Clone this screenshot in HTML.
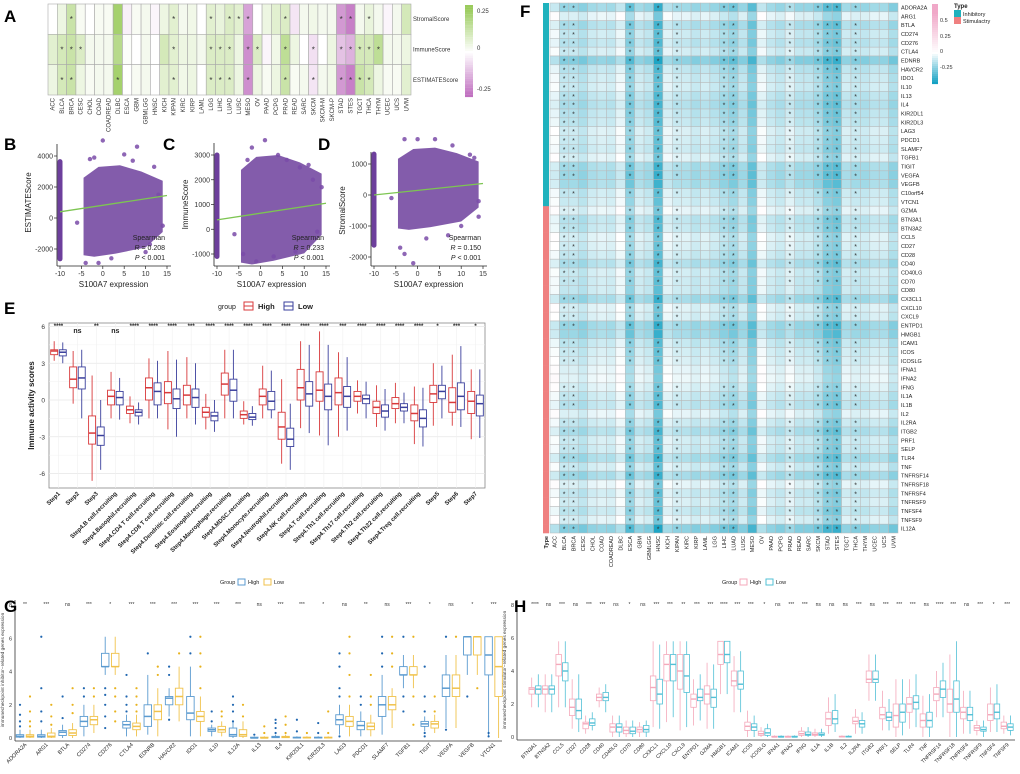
<!DOCTYPE html>
<html><head><meta charset="utf-8"><style>
body{margin:0;background:#fff;}
svg{display:block;font-family:"Liberation Sans",Arial,sans-serif;}
</style></head><body>
<svg id="s" width="1020" height="774" viewBox="0 0 1020 774" xmlns="http://www.w3.org/2000/svg"></svg>
<script>
const NS="http://www.w3.org/2000/svg";
const S=document.getElementById('s');
function el(t,a,p){const e=document.createElementNS(NS,t);for(const k in a)e.setAttribute(k,a[k]);(p||S).appendChild(e);return e;}
function tx(x,y,s,a,p){const e=el('text',Object.assign({x:x,y:y},a||{}),p);e.textContent=s;return e;}
function grp(name){const g=el('g',{});return g;}

// ===== Panel A data =====
const aCats=["ACC","BLCA","BRCA","CESC","CHOL","COAD","COADREAD","DLBC","ESCA","GBM","GBMLGG","HNSC","KICH","KIPAN","KIRC","KIRP","LAML","LGG","LIHC","LUAD","LUSC","MESO","OV","PAAD","PCPG","PRAD","READ","SARC","SKCM","SKCM-M","SKCM-P","STAD","STES","TGCT","THCA","THYM","UCEC","UCS","UVM"];
const aRows=["StromalScore","ImmuneScore","ESTIMATEScore"];
const aStromal=[0,0.05,0.15,0.02,0,0.02,0.02,0.25,-0.03,0.02,0.03,-0.02,0.05,0.08,0.03,0.04,0,0.08,0.06,0.1,0.08,-0.18,0,0.05,0.08,0.1,-0.05,0.03,0.04,0.03,0.03,-0.2,-0.25,0.03,0.06,0.03,-0.02,0.03,0.12];
const aImmune=[0.08,0.12,0.15,0.1,0.03,0.03,0.03,0.2,0.01,0,0.03,0,0.12,0.08,0.05,0.05,0.03,0.1,0.1,0.1,0.05,-0.22,0.1,-0.02,0.04,0.18,0.05,0,-0.06,0,0.05,-0.12,-0.15,0.12,0.12,0.18,0.03,0.03,0.05];
const aEstimate=[0.05,0.12,0.15,0.05,0.02,0.03,0.03,0.25,0,0.02,0.03,0,0.08,0.08,0.04,0.05,0,0.1,0.1,0.1,0.05,-0.22,0.05,0.02,0.05,0.15,0.02,0.03,-0.05,0.03,0.04,-0.2,-0.25,0.15,0.12,0.05,0.02,0.02,0.08];
const aStarStromal=[2,13,17,19,20,21,25,31,32,34];
const aStarImmune=[1,2,3,13,17,18,19,21,22,25,28,31,32,33,34,35];
const aStarEstimate=[1,2,7,13,17,18,19,21,25,28,31,32,33,34];

function mix(c1,c2,t){const a=[1,3,5].map(i=>parseInt(c1.substr(i,2),16)),b=[1,3,5].map(i=>parseInt(c2.substr(i,2),16));return 'rgb('+a.map((v,i)=>Math.round(v+(b[i]-v)*t)).join(',')+')';}
function aColor(v){return v>=0?mix('#ffffff','#9acb5c',Math.min(1,v/0.28)):mix('#ffffff','#c070c0',Math.min(1,-v/0.28));}

(function(){
 const g=grp('heatmap-a');
 const x0=48,x1=411,y0=4,y1=95,cw=(x1-x0)/aCats.length,rh=(y1-y0)/3;
 const vals=[aStromal,aImmune,aEstimate],stars=[aStarStromal,aStarImmune,aStarEstimate];
 vals.forEach((row,r)=>row.forEach((v,c)=>{
  const e=el('rect',{x:x0+c*cw,y:y0+r*rh,width:cw,height:rh,fill:aColor(v),stroke:'#aaa','stroke-width':0.6},g);
  
  if(stars[r].indexOf(c)>=0) tx(x0+c*cw+cw/2,y0+r*rh+rh/2+3,'*',{'font-size':8,'text-anchor':'middle',fill:'#333'},g);
 }));
 aRows.forEach((n,r)=>{const t=tx(413,y0+r*rh+rh/2+2,n,{'font-size':6,fill:'#333'},g);});
 aCats.forEach((n,c)=>{const t=tx(0,0,n,{'font-size':6,fill:'#333','text-anchor':'end',transform:'translate('+(x0+c*cw+cw/2+2)+',98) rotate(-90)'},g);});
 const cb=grp('colorbar-a');
 for(let i=0;i<40;i++){const v=0.3-i*0.6/40;el('rect',{x:465,y:5+i*2.3,width:8,height:2.4,fill:aColor(v)},cb);}
 tx(477,13,'0.25',{'font-size':6,fill:'#333'},cb);tx(477,50,'0',{'font-size':6,fill:'#333'},cb);tx(477,91,'-0.25',{'font-size':6,fill:'#333'},cb);
})();

// ===== Panels B C D =====
const stripX=-10;
const cloudPts=[[-4.5,-2400],[-4.5,2600],[-1,3300],[4,3400],[9,3000],[14,2400],[14,-900],[10,-1900],[3,-2300],[-2,-2500]];
const bExtra=[[0,5000],[8,4600],[-2,3900],[5,4100],[12,3300],[-4,-2900],[-1,-2900],[10,-2200],[14,-500],[-6,-300],[13,1500],[2,-2600],[7,3700],[11,-1700],[-3,3800]];
const cExtra=[[1,3600],[-2,3300],[4,3000],[9,2500],[12,2000],[-4,-1000],[-1,-1300],[8,-900],[14,1700],[-6,-200],[11,2600],[3,-1100],[6,2800],[13,-100],[-3,2800]];
const dExtra=[[-3,1800],[0,1800],[4,1800],[8,1600],[12,1300],[-4,-1700],[-1,-2200],[7,-1300],[14,-200],[-6,-100],[13,1200],[2,-1400],[10,-1000],[14,-700],[-3,-1900]];
const bStrip=[-2800,3800],cStrip=[-1200,3100],dStrip=[-1700,1400];
const fitB=[[-10,400],[15,1450]],fitC=[[-10,380],[15,1050]],fitD=[[-10,0],[15,370]];
const stats=[["0.208"],["0.233"],["0.150"]];

function scatter(name,ax,pxA,pxB,yv1,py1,yv2,py2,ticks,ylab,strip,extra,fit,R,cloudScale){
 const g=grp(name);
 const X=v=>pxA+(v+10)*(pxB-pxA)/25, Y=v=>py1+(v-yv1)*(py2-py1)/(yv2-yv1);
 el('line',{x1:ax,y1:Y(ticks[ticks.length-1])-12,x2:ax,y2:266,stroke:'#222','stroke-width':0.8},g);
 el('line',{x1:ax,y1:266,x2:pxB+4,y2:266,stroke:'#222','stroke-width':0.8},g);
 [-10,-5,0,5,10,15].forEach(v=>{el('line',{x1:X(v),y1:266,x2:X(v),y2:269,stroke:'#222','stroke-width':0.7},g);tx(X(v),276,String(v),{'font-size':7,'text-anchor':'middle',fill:'#333'},g);});
 ticks.forEach(v=>{el('line',{x1:ax-3,y1:Y(v),x2:ax,y2:Y(v),stroke:'#222','stroke-width':0.7},g);tx(ax-4,Y(v)+2.5,String(v),{'font-size':7,'text-anchor':'end',fill:'#333'},g);});
 tx(0,0,ylab,{'font-size':8,'text-anchor':'middle',fill:'#222',transform:'translate('+(ax-26)+','+((Y(ticks[0])+Y(ticks[ticks.length-1]))/2)+') rotate(-90)'},g);
 tx((pxA+pxB)/2,287,'S100A7 expression',{'font-size':8,'text-anchor':'middle',fill:'#222'},g);
 const pts=cloudPts.map(p=>X(p[0])+','+Y(p[1]*cloudScale[0]+cloudScale[1])).join(' ');
 const c=el('polygon',{points:pts,fill:'#6d3f9c','fill-opacity':0.85},g);
 el('rect',{x:X(stripX)-2.5,y:Y(strip[1]),width:5,height:Y(strip[0])-Y(strip[1]),fill:'#6d3f9c',rx:2.5},g);
 extra.forEach(p=>el('circle',{cx:X(p[0]),cy:Y(p[1]),r:2.2,fill:'#7a4ba8','fill-opacity':0.85},g));
 const f=el('line',{x1:X(fit[0][0]),y1:Y(fit[0][1]),x2:X(fit[1][0]),y2:Y(fit[1][1]),stroke:'#7dc552','stroke-width':1.3},g);
 tx(pxB-2,240,'Spearman',{'font-size':7,'text-anchor':'end',fill:'#222'},g);
 const r=tx(pxB-2,250,'',{'font-size':7,'text-anchor':'end',fill:'#222'},g);r.innerHTML='<tspan font-style="italic">R</tspan> = '+R;
 const pp=tx(pxB-2,260,'',{'font-size':7,'text-anchor':'end',fill:'#222'},g);pp.innerHTML='<tspan font-style="italic">P</tspan> &lt; 0.001';
}
scatter('scatter-b',57,60,167,4000,156,-2000,249,[-2000,0,2000,4000],'ESTIMATEScore',bStrip,bExtra,fitB,stats[0][0],[1,0]);
scatter('scatter-c',214,217,326,3000,155,-1000,254,[-1000,0,1000,2000,3000],'ImmuneScore',cStrip,cExtra,fitC,stats[1][0],[0.75,450]);
scatter('scatter-d',371,374,483,1000,164,-2000,257,[-2000,-1000,0,1000],'StromalScore',dStrip,dExtra,fitD,stats[2][0],[0.45,0]);

// ===== Panel E =====
const eCats=["Step1","Step2","Step3","Step4.B cell.recruiting","Step4.Basophil.recruiting","Step4.CD4 T cell.recruiting","Step4.CD8 T cell.recruiting","Step4.Dendritic cell.recruiting","Step4.Eosinophil.recruiting","Step4.Macrophage.recruiting","Step4.MDSC.recruiting","Step4.Monocyte.recruiting","Step4.Neutrophil.recruiting","Step4.NK cell.recruiting","Step4.T cell.recruiting","Step4.Th1 cell.recruiting","Step4.Th17 cell.recruiting","Step4.Th2 cell.recruiting","Step4.Th22 cell.recruiting","Step4.Treg cell.recruiting","Step5","Step6","Step7"];
const eHigh=[[3.2,3.7,4.0,4.1,4.8],[-0.3,1.0,1.7,2.7,4.0],[-6.6,-3.6,-2.7,-1.3,2.0],[-1.5,-0.4,0.3,0.8,2.3],[-1.9,-1.1,-0.8,-0.5,0.3],[-1.5,0,1.0,1.8,3.4],[-2.4,-0.3,0.6,1.5,4.0],[-1.5,-0.4,0.4,1.2,3.5],[-2.4,-1.4,-1.0,-0.6,0.5],[-1.5,0.4,1.3,2.2,4.1],[-2.0,-1.5,-1.2,-0.9,-0.1],[-1.5,-0.4,0.3,0.9,2.8],[-5.2,-3.2,-2.2,-1.0,1.7],[-2.3,0,1.0,2.5,4.8],[-2.9,-0.1,0.8,2.3,5.6],[-3.0,-0.4,0.6,1.8,3.9],[-1.1,-0.1,0.3,0.7,1.6],[-2.2,-1.1,-0.6,-0.1,1.2],[-1.9,-0.7,-0.3,0.2,1.4],[-3.6,-1.7,-1.1,-0.4,1.1],[-2.1,-0.2,0.5,1.2,3.0],[-2.1,-1.0,-0.2,1.0,3.7],[-3.2,-1.1,-0.1,0.7,2.5]];
const eLow=[[3.0,3.6,3.9,4.1,4.7],[-1.5,0.9,1.8,2.7,4.1],[-5.7,-3.7,-2.9,-2.2,0],[-1.6,-0.4,0.2,0.7,1.8],[-2.0,-1.3,-1.0,-0.8,-0.2],[-1.5,-0.4,0.7,1.4,3.2],[-3.0,-0.7,0.1,0.9,3.3],[-2.0,-0.6,0.2,0.9,3.0],[-2.6,-1.7,-1.3,-1.0,0],[-1.5,-0.1,0.8,1.7,4.1],[-2.1,-1.6,-1.4,-1.1,-0.5],[-1.5,-0.8,-0.1,0.7,2.4],[-5.7,-3.8,-3.2,-2.3,-0.3],[-2.7,-0.5,0.5,1.5,4.5],[-3.7,-0.8,0.3,1.3,4.5],[-2.5,-0.6,0.3,1.1,3.5],[-1.5,-0.3,0.1,0.4,1.5],[-2.5,-1.4,-0.9,-0.4,0.9],[-1.9,-0.9,-0.6,-0.3,0.6],[-3.8,-2.2,-1.5,-0.8,1.0],[-1.5,0.1,0.7,1.2,2.8],[-2.2,-0.8,0.3,1.4,4.4],[-3.1,-1.3,-0.3,0.4,2.5]];
const eSig=["****","ns","**","ns","****","****","****","***","****","****","****","****","****","****","****","***","****","****","****","****","*","***","*"];
const eTicks=[-6,-3,0,3,6];

function box(g,cx,w,d,Y,col,lw,fill){
 el('line',{x1:cx,y1:Y(d[0]),x2:cx,y2:Y(d[1]),stroke:col,'stroke-width':lw},g);
 el('line',{x1:cx,y1:Y(d[3]),x2:cx,y2:Y(d[4]),stroke:col,'stroke-width':lw},g);
 const r=el('rect',{x:cx-w/2,y:Y(d[3]),width:w,height:Math.max(0.8,Y(d[1])-Y(d[3])),fill:fill||'#fff',stroke:col,'stroke-width':lw},g);
 
 el('line',{x1:cx-w/2,y1:Y(d[2]),x2:cx+w/2,y2:Y(d[2]),stroke:col,'stroke-width':lw+0.6},g);
}
(function(){
 const g=grp('boxplot-e');
 const x0=49,x1=485,y0=323,y1=488,Y=v=>400-v*12.25,bw=(x1-x0)/eCats.length;
 el('rect',{x:x0,y:y0,width:x1-x0,height:y1-y0,fill:'#fff',stroke:'#888','stroke-width':0.8},g);
 [-4.5,-1.5,1.5,4.5].forEach(v=>el('line',{x1:x0,y1:Y(v),x2:x1,y2:Y(v),stroke:'#f2f2f2','stroke-width':0.6},g));
 eTicks.forEach(v=>{el('line',{x1:x0,y1:Y(v),x2:x1,y2:Y(v),stroke:'#e6e6e6','stroke-width':0.8},g);tx(x0-4,Y(v)+2.5,String(v),{'font-size':6.5,'text-anchor':'end',fill:'#333'},g);});
 tx(0,0,'Immune activity scores',{'font-size':8,'font-weight':'bold','text-anchor':'middle',fill:'#222',transform:'translate(34,'+((y0+y1)/2)+') rotate(-90)'},g);
 eCats.forEach((n,i)=>{
  const cx=x0+bw*(i+0.5);
  el('line',{x1:cx,y1:y0,x2:cx,y2:y1,stroke:'#f0f0f0','stroke-width':0.6},g);
  box(g,cx-4.3,7,eHigh[i],Y,'#d8393b',0.9);
  box(g,cx+4.3,7,eLow[i],Y,'#3a3f9c',0.9);
  tx(cx,eSig[i]=='ns'?333:328,eSig[i],{'font-size':eSig[i]=='ns'?7:6,'text-anchor':'middle',fill:'#222','font-weight':'bold'},g);
  const t=tx(0,0,n,{'font-size':6,'font-weight':'bold','text-anchor':'end',fill:'#222',transform:'translate('+(cx+2)+','+(y1+6)+') rotate(-45)'},g);
  
 });
 const lg=grp('legend-e');
 tx(218,309,'group',{'font-size':7,fill:'#222'},lg);
 el('rect',{x:244,y:302,width:9,height:8,fill:'#fff',stroke:'#d8393b'},lg);el('line',{x1:244,y1:306,x2:253,y2:306,stroke:'#d8393b'},lg);
 tx(258,309,'High',{'font-size':7.5,'font-weight':'bold',fill:'#222'},lg);
 el('rect',{x:284,y:302,width:9,height:8,fill:'#fff',stroke:'#3a3f9c'},lg);el('line',{x1:284,y1:306,x2:293,y2:306,stroke:'#3a3f9c'},lg);
 tx(298,309,'Low',{'font-size':7.5,'font-weight':'bold',fill:'#222'},lg);
})();

// ===== Panel F =====
const fCols=["ACC","BLCA","BRCA","CESC","CHOL","COAD","COADREAD","DLBC","ESCA","GBM","GBMLGG","HNSC","KICH","KIPAN","KIRC","KIRP","LAML","LGG","LIHC","LUAD","LUSC","MESO","OV","PAAD","PCPG","PRAD","READ","SARC","SKCM","STAD","STES","TGCT","THCA","THYM","UCEC","UCS","UVM"];
const fRows=["ADORA2A","ARG1","BTLA","CD274","CD276","CTLA4","EDNRB","HAVCR2","IDO1","IL10","IL13","IL4","KIR2DL1","KIR2DL3","LAG3","PDCD1","SLAMF7","TGFB1","TIGIT","VEGFA","VEGFB","C10orf54","VTCN1","GZMA","BTN3A1","BTN3A2","CCL5","CD27","CD28","CD40","CD40LG","CD70","CD80","CX3CL1","CXCL10","CXCL9","ENTPD1","HMGB1","ICAM1","ICOS","ICOSLG","IFNA1","IFNA2","IFNG","IL1A","IL1B","IL2","IL2RA","ITGB2","PRF1","SELP","TLR4","TNF","TNFRSF14","TNFRSF18","TNFRSF4","TNFRSF9","TNFSF4","TNFSF9","IL12A"];
const fInhibitoryCount=23;
const fColBase=[-0.04,-0.12,-0.12,-0.14,-0.1,-0.09,-0.1,-0.05,-0.2,-0.1,-0.12,-0.28,-0.07,-0.1,-0.1,-0.12,-0.1,-0.12,-0.15,-0.18,-0.12,-0.22,-0.05,-0.1,-0.12,-0.08,-0.12,-0.12,-0.15,-0.22,-0.24,-0.1,-0.12,-0.12,-0.1,-0.1,-0.15];
const fRowOff=[-0.05,0.06,-0.02,0.02,0,0.03,-0.08,0,0.02,0.03,0,-0.02,0,0.01,0.04,0.03,0.02,0.05,-0.03,-0.04,-0.03,0.02,0.03,0.06,0,0.01,0.05,0.04,0.02,-0.02,0.03,0.02,0.02,-0.04,0.05,0.04,-0.05,-0.04,0.01,0.03,0.04,0.06,0.07,0.05,0.02,0.0,0.06,0.02,-0.02,0.03,0.02,-0.03,0.03,-0.04,0.06,0.02,0.04,0.01,0.05,-0.08];
const fStarCols=[1,2,8,11,13,18,19,25,28,29,30,32];
const fStarRowMask=[1,0,1,1,1,1,1,1,1,1,1,1,1,1,1,1,1,1,1,1,0,1,0,1,1,1,1,1,1,1,1,1,0,1,1,1,1,0,1,1,1,0,0,1,1,1,0,1,1,1,1,1,1,1,1,1,1,1,1,1];
function fColor(v){return v<0?mix('#ffffff','#12a0c2',Math.min(1,-v/0.38)):mix('#ffffff','#f0a8c8',Math.min(1,v/0.5));}
(function(){
 const g=grp('heatmap-f');
 const x0=550,x1=898,y0=3,y1=533,cw=(x1-x0)/fCols.length,rh=(y1-y0)/fRows.length;
 fRows.forEach((rn,r)=>{
  el('rect',{x:543,y:y0+r*rh,width:6,height:rh+0.3,fill:r<fInhibitoryCount?'#1fb2bd':'#ef8080'},g);
  fCols.forEach((cn,c)=>{
   const v=fColBase[c]+fRowOff[r];
   const e=el('rect',{x:x0+c*cw,y:y0+r*rh,width:cw,height:rh,fill:fColor(v),stroke:'#b8b8b8','stroke-width':0.5},g);
   
   if(fStarCols.indexOf(c)>=0&&fStarRowMask[r]) tx(x0+c*cw+cw/2,y0+r*rh+rh/2+3,'*',{'font-size':7,'text-anchor':'middle',fill:'#333'},g);
  });
  const t=tx(901,y0+r*rh+rh/2+2,rn,{'font-size':5.5,fill:'#222'},g);
 });
 tx(0,0,'Type',{'font-size':5.5,'font-weight':'bold','text-anchor':'end',fill:'#222',transform:'translate(548,536) rotate(-90)'},g);
 fCols.forEach((n,c)=>{const t=tx(0,0,n,{'font-size':5.5,'text-anchor':'end',fill:'#222',transform:'translate('+(x0+c*cw+cw/2+2)+',536) rotate(-90)'},g);});
 const cb=grp('colorbar-f');
 for(let i=0;i<40;i++){const v=0.6-i*1.0/40;el('rect',{x:932,y:4+i*2,width:6,height:2.1,fill:fColor(v)},cb);}
 tx(940,22,'0.5',{'font-size':5.5,fill:'#333'},cb);tx(940,38,'0.25',{'font-size':5.5,fill:'#333'},cb);tx(940,53,'0',{'font-size':5.5,fill:'#333'},cb);tx(940,69,'-0.25',{'font-size':5.5,fill:'#333'},cb);
 const lg=grp('legend-type');
 tx(954,8,'Type',{'font-size':6,'font-weight':'bold',fill:'#222'},lg);
 el('rect',{x:954,y:10,width:7,height:7,fill:'#1fb2bd'},lg);tx(963,16,'Inhibitory',{'font-size':5.5,fill:'#222'},lg);
 el('rect',{x:954,y:17,width:7,height:7,fill:'#ef8080'},lg);tx(963,23,'Stimulactry',{'font-size':5.5,fill:'#222'},lg);
})();

// ===== Panel G =====
const gCats=["ADORA2A","ARG1","BTLA","CD274","CD276","CTLA4","EDNRB","HAVCR2","IDO1","IL10","IL12A","IL13","IL4","KIR2DL1","KIR2DL3","LAG3","PDCD1","SLAMF7","TGFB1","TIGIT","VEGFA","VEGFB","VTCN1"];
const gHigh=[[0,0.05,0.1,0.2,0.5],[0,0.05,0.1,0.2,0.5],[0,0.15,0.35,0.45,0.8],[0.1,0.7,1.0,1.3,2.0],[3.8,4.3,4.3,5.1,6.1],[0.1,0.6,0.8,1.0,1.4],[0.2,0.7,1.3,2.0,3.8],[1.3,2.0,2.4,2.5,3.0],[0.1,1.1,1.5,2.5,4.3],[0.1,0.4,0.5,0.6,0.8],[0,0.1,0.2,0.6,1.0],[0,0,0,0.05,0.1],[0,0.02,0.05,0.1,0.2],[0,0,0.02,0.05,0.1],[0,0,0.02,0.05,0.1],[0.2,0.8,1.1,1.4,2.0],[0.1,0.5,0.75,1.0,1.6],[0.2,1.3,2.0,2.5,3.8],[3.0,3.8,3.8,4.3,5.0],[0.4,0.7,0.85,1.0,1.3],[0.6,2.5,3.0,3.8,5.0],[3.8,5.0,6.1,6.1,6.1],[0.1,3.8,5.0,6.1,6.1]];
const gLow=[[0,0.05,0.1,0.2,0.5],[0,0.05,0.1,0.3,0.6],[0,0.15,0.3,0.5,0.9],[0.3,0.8,1.1,1.3,2.0],[3.8,4.3,4.3,5.1,6.1],[0.1,0.5,0.7,0.9,1.4],[0.1,1.1,1.6,2.0,3.0],[1.0,2.0,2.5,3.0,4.3],[0.1,1.0,1.3,1.6,2.5],[0.1,0.35,0.5,0.7,1.0],[0,0.1,0.2,0.5,1.0],[0,0,0,0.05,0.1],[0,0.02,0.05,0.1,0.2],[0,0,0.02,0.05,0.1],[0,0,0.02,0.05,0.1],[0.1,0.7,1.0,1.3,2.0],[0.1,0.5,0.7,0.9,1.4],[0.6,1.7,2.0,2.5,3.0],[3.0,3.8,3.8,4.3,5.0],[0.3,0.6,0.85,1.0,1.4],[0.6,2.5,3.0,3.8,5.0],[3.8,5.0,6.1,6.1,6.1],[0,2.5,4.3,6.1,6.1]];
const gHighOut=[[0.7,1.0,1.4,2.0],[1.0,1.6,3.0,6.1],[1.2,2.5],[2.5,3.0],[0.6,1.3,2.0,2.6,3.0],[1.6,2.0,2.5,3.8],[5.1],[1.1,3.8,4.3],[5.1,6.1],[1.0,1.6],[1.0,1.6,2.0,2.5],[0.2],[0.3,0.6,0.9,1.1],[0.4,1.1],[0.3,0.9],[0.1,2.5,3.0,4.3,5.1],[2.0,2.5],[4.3,5.1,6.1],[1.6,2.5,6.1],[0.1,0.3,1.6,2.5,4.3],[0.5,6.1],[2.5],[0.1,0.3]];
const gLowOut=[[0.7,1.0,1.6,2.5],[0.8,1.3,2.0],[1.5,2.0,3.0],[2.5,3.0],[1.0,1.6,2.5,3.0],[1.6,2.0,2.5,3.0],[3.8,4.3],[5.1],[3.0,4.3,5.1,6.1],[1.3,1.6],[1.3,2.0],[0.3,0.7],[0.3,0.8,1.3],[0.3],[0.3,1.6],[2.5,3.8,5.1,6.1],[2.0,2.5,3.8],[4.3,5.1,6.1],[0.8,2.5,6.1],[1.6,2.5],[6.1],[3.0],[]];
const gSig=["**","***","ns","***","*","***","***","***","***","***","***","ns","***","***","*","ns","**","ns","***","*","ns","*","***"];
const yTicks=[0,2,4,6,8];
(function(){
 const g=grp('boxplot-g');
 const Y=v=>738-v*16.6,ax=15;
 el('line',{x1:ax,y1:600,x2:ax,y2:741,stroke:'#333','stroke-width':0.8},g);
 el('line',{x1:ax,y1:741,x2:502,y2:741,stroke:'#333','stroke-width':0.8},g);
 yTicks.forEach(v=>{tx(ax-3,Y(v)+2,String(v),{'font-size':5.5,'text-anchor':'end',fill:'#333'},g);});
 tx(0,0,'immunecheckpoint inhibitor−related genes expression',{'font-size':4.8,'text-anchor':'middle',fill:'#333',transform:'translate(4,670) rotate(-90)'},g);
 gCats.forEach((n,i)=>{
  const cx=25+i*21.3;
  box(g,cx-5,7.5,gHigh[i],Y,'#5b9bd0',0.9);
  box(g,cx+5,7.5,gLow[i],Y,'#f0c24b',0.9);
  gHighOut[i].forEach(v=>el('circle',{cx:cx-5,cy:Y(v),r:1.1,fill:'#1f66b0'},g));
  gLowOut[i].forEach(v=>el('circle',{cx:cx+5,cy:Y(v),r:1.1,fill:'#e8b21c'},g));
  tx(cx,606,gSig[i],{'font-size':5,'text-anchor':'middle',fill:'#333'},g);
  const t=tx(0,0,n,{'font-size':5.5,'text-anchor':'end',fill:'#222',transform:'translate('+(cx+2)+',745) rotate(-45)'},g);
 });
 const lg=grp('legend-g');
 tx(220,584,'Group',{'font-size':5.5,fill:'#222'},lg);
 el('rect',{x:238,y:579,width:7,height:6,fill:'#fff',stroke:'#5b9bd0'},lg);tx(248,584,'High',{'font-size':5.5,fill:'#222'},lg);
 el('rect',{x:264,y:579,width:7,height:6,fill:'#fff',stroke:'#f0c24b'},lg);tx(274,584,'Low',{'font-size':5.5,fill:'#222'},lg);
})();

// ===== Panel H =====
const hCats=["BTN3A1","BTN3A2","CCL5","CD27","CD28","CD40","CD40LG","CD70","CD80","CX3CL1","CXCL10","CXCL9","ENTPD1","GZMA","HMGB1","ICAM1","ICOS","ICOSLG","IFNA1","IFNA2","IFNG","IL1A","IL1B","IL2","IL2RA","ITGB2","PRF1","SELP","TLR4","TNF","TNFRSF14","TNFRSF18","TNFRSF4","TNFRSF9","TNFSF4","TNFSF9"];
const hHigh=[[1.8,2.6,2.9,3.0,3.6],[1.5,2.6,2.9,3.1,3.8],[1.8,3.7,4.4,5.0,5.8],[0.5,1.3,1.8,2.3,3.5],[0.2,0.5,0.8,0.9,1.3],[1.8,2.2,2.4,2.6,3.0],[0,0.3,0.6,0.8,1.3],[0,0.2,0.4,0.6,1.0],[0,0.3,0.45,0.6,0.9],[0.6,2.2,3.0,3.7,5.8],[0.9,3.4,4.4,5.0,5.8],[0.4,2.9,4.0,5.0,5.8],[0.7,1.8,2.3,2.6,3.5],[0.5,2.0,2.6,3.1,4.5],[2.6,4.4,5.0,5.8,5.8],[1.5,3.1,3.4,4.0,4.9],[0,0.4,0.65,0.9,1.6],[0,0.1,0.2,0.35,0.6],[0,0,0,0.05,0.1],[0,0,0,0.05,0.1],[0,0.1,0.2,0.35,0.6],[0,0.1,0.15,0.25,0.5],[0.2,0.7,1.1,1.5,2.4],[0,0,0.02,0.05,0.1],[0.2,0.8,0.95,1.2,1.7],[2.2,3.3,3.5,4.0,5.0],[0.4,1.1,1.35,1.8,2.8],[0,0.6,1.3,2.0,3.5],[0.5,1.5,2.0,2.4,3.5],[0,0.6,1.0,1.4,2.5],[1.2,2.2,2.6,3.0,4.0],[0,1.5,2.0,2.9,5.0],[0.2,1.1,1.5,1.8,2.8],[0.1,0.4,0.55,0.7,1.0],[0.3,1.0,1.35,2.0,3.0],[0.2,0.5,0.65,0.9,1.3]];
const hLow=[[1.8,2.6,2.9,3.1,3.8],[1.5,2.6,2.9,3.1,3.8],[1.8,3.4,4.0,4.5,5.8],[0.3,1.1,1.6,2.3,3.8],[0.4,0.7,0.85,1.1,1.5],[1.5,2.2,2.4,2.7,3.2],[0,0.3,0.6,0.8,1.3],[0,0.2,0.35,0.6,1.0],[0,0.3,0.45,0.7,1.0],[0.5,2.0,2.6,3.5,5.6],[1.2,3.4,4.4,5.0,5.8],[0.6,2.7,3.7,5.0,5.8],[1.0,2.2,2.4,2.9,3.8],[0.5,1.8,2.4,2.9,4.4],[2.6,4.5,5.0,5.8,5.8],[1.5,2.9,3.2,4.0,5.2],[0,0.4,0.6,0.8,1.3],[0,0.1,0.25,0.5,0.8],[0,0,0,0.05,0.1],[0,0,0,0.05,0.1],[0,0.1,0.15,0.3,0.6],[0,0.1,0.15,0.25,0.5],[0.3,0.8,1.1,1.6,2.6],[0,0,0.02,0.05,0.1],[0.2,0.6,0.8,1.0,1.5],[2.2,3.3,3.5,4.0,5.0],[0.4,1.0,1.2,1.5,2.3],[0.1,0.9,1.5,2.0,3.5],[0.6,1.7,2.1,2.5,3.8],[0,0.6,1.0,1.5,2.6],[1.2,2.4,2.9,3.4,4.5],[0,1.5,2.3,3.4,5.8],[0.2,1.0,1.35,1.8,2.8],[0,0.35,0.45,0.6,1.0],[0.3,1.1,1.5,2.0,3.2],[0.1,0.4,0.6,0.8,1.3]];
const hSig=["****","ns","***","ns","***","***","ns","*","ns","***","***","**","***","***","****","***","***","*","ns","***","***","ns","ns","ns","***","ns","***","***","***","ns","****","***","ns","***","*","***"];
(function(){
 const g=grp('boxplot-h');
 const Y=v=>737-v*16.5,ax=517;
 el('line',{x1:ax,y1:600,x2:ax,y2:740,stroke:'#333','stroke-width':0.8},g);
 el('line',{x1:ax,y1:740,x2:1015,y2:740,stroke:'#333','stroke-width':0.8},g);
 yTicks.forEach(v=>{tx(ax-3,Y(v)+2,String(v),{'font-size':5.5,'text-anchor':'end',fill:'#333'},g);});
 tx(0,0,'immunecheckpoint stimulator−related genes expression',{'font-size':4.8,'text-anchor':'middle',fill:'#333',transform:'translate(506,670) rotate(-90)'},g);
 hCats.forEach((n,i)=>{
  const cx=535+i*13.49;
  box(g,cx-3.3,5.5,hHigh[i],Y,'#f4a9bb',0.8);
  box(g,cx+3.3,5.5,hLow[i],Y,'#52c0d6',0.8);
  tx(cx,606,hSig[i],{'font-size':5,'text-anchor':'middle',fill:'#333'},g);
  const t=tx(0,0,n,{'font-size':5.2,'text-anchor':'end',fill:'#222',transform:'translate('+(cx+2)+',745) rotate(-45)'},g);
 });
 const lg=grp('legend-h');
 tx(722,584,'Group',{'font-size':5.5,fill:'#222'},lg);
 el('rect',{x:740,y:579,width:7,height:6,fill:'#fff',stroke:'#f4a9bb'},lg);tx(750,584,'High',{'font-size':5.5,fill:'#222'},lg);
 el('rect',{x:766,y:579,width:7,height:6,fill:'#fff',stroke:'#52c0d6'},lg);tx(776,584,'Low',{'font-size':5.5,fill:'#222'},lg);
})();

// panel letters
[["A",4,22],["B",4,150],["C",163,150],["D",318,150],["E",4,314],["F",520,17],["G",4,612],["H",514,612]].forEach(p=>{
 const t=tx(p[1],p[2],p[0],{'font-size':17,'font-weight':'bold',fill:'#000'});
 
 
});
</script>
</body></html>
